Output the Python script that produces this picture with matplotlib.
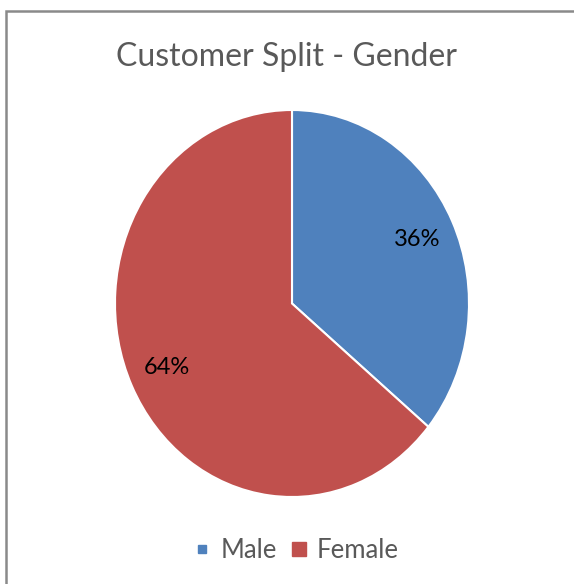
import matplotlib
matplotlib.use("Agg")
import matplotlib.pyplot as plt
from matplotlib.patches import Rectangle
from matplotlib.lines import Line2D

plt.rcParams['font.family'] = ['Lato', 'DejaVu Sans']

labels = ['Male', 'Female']
shares = [36, 64]
colors = ['#4F81BD', '#C0504D']

W, H = 574, 584
fig = plt.figure(figsize=(W / 100, H / 100), dpi=100)

# outer chart border (cut by the image edge on the right and bottom)
fig.patches.append(Rectangle((6 / W, -0.05), 1.2, 1 - 11 / H + 0.05, transform=fig.transFigure,
                             fill=False, edgecolor='#8a8a8a', linewidth=1.8))

# pie slightly taller than wide, like the reference
ax = fig.add_axes([115 / W, (H - 497) / H, 354 / W, 387 / H])
wedges, texts, autotexts = ax.pie(shares, colors=colors, startangle=90, counterclock=False,
                                  autopct='%d%%', pctdistance=0.78,
                                  wedgeprops=dict(edgecolor='white', linewidth=1.5),
                                  textprops=dict(fontsize=17, color='black'))
ax.set_aspect('auto')
ax.set_xlim(-1, 1)
ax.set_ylim(-1, 1)
ax.axis('off')

fig.text(0.5, 1 - 57 / H, 'Customer Split - Gender', ha='center', va='center',
         fontsize=23, color='#595959')

handles = [Line2D([], [], marker='s', linestyle='none', markersize=6, color=colors[0]),
           Line2D([], [], marker='s', linestyle='none', markersize=10, color=colors[1])]
fig.legend(handles, labels, loc='center', bbox_to_anchor=(296 / W, 1 - 550 / H), ncol=2,
           frameon=False, fontsize=18.5, handlelength=0.7, handletextpad=0.35, columnspacing=0.5,
           labelcolor='#595959')

fig.savefig('out.png', dpi=100)
